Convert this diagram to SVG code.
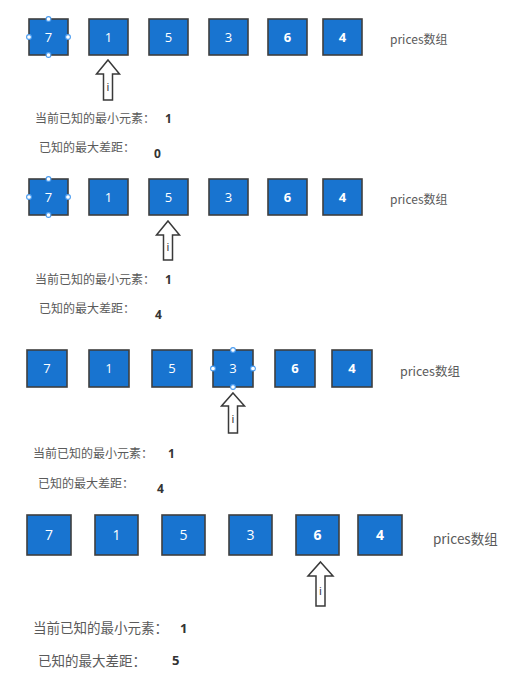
<svg xmlns="http://www.w3.org/2000/svg" width="516" height="680" viewBox="0 0 516 680">
<style>
.box{fill:#1874d0;stroke:#3f3f3f;stroke-width:1.6}
.num{font-family:"Open Sans","Noto Sans",sans-serif;fill:#ffffff;text-anchor:middle}
.nb{font-weight:bold}
.lbl{font-family:"Noto Sans CJK SC","Noto Sans",sans-serif;fill:#5a5a5a}
.val{font-family:"Open Sans","Noto Sans",sans-serif;font-weight:bold;fill:#333333}
.arr{fill:#ffffff;stroke:#3a3a3a;stroke-width:1.5;stroke-linejoin:miter}
.ai{font-family:"Noto Sans",sans-serif;font-size:11px;fill:#333333;text-anchor:middle}
.h{fill:#ffffff;stroke:#4a9cf0;stroke-width:1.1}
</style>
<rect width="516" height="680" fill="#ffffff"/>

<!-- Section 1 -->
<g id="s1">
  <g id="s1-b0"><rect class="box" x="29" y="19" width="39" height="36"/><text class="num" x="48.5" y="41.5" font-size="13">7</text></g>
  <g id="s1-b1"><rect class="box" x="89" y="19" width="39" height="36"/><text class="num" x="108.5" y="41.5" font-size="13">1</text></g>
  <g id="s1-b2"><rect class="box" x="149" y="19" width="39" height="36"/><text class="num" x="168.5" y="41.5" font-size="13">5</text></g>
  <g id="s1-b3"><rect class="box" x="209" y="19" width="39" height="36"/><text class="num" x="228.5" y="41.5" font-size="13">3</text></g>
  <g id="s1-b4"><rect class="box" x="268" y="19" width="39" height="36"/><text class="num nb" x="287.5" y="41.5" font-size="13">6</text></g>
  <g id="s1-b5"><rect class="box" x="323" y="19" width="39" height="36"/><text class="num nb" x="342.5" y="41.5" font-size="13">4</text></g>
  <g id="s1-handles"><circle class="h" cx="48.5" cy="19" r="2.4"/><circle class="h" cx="48.5" cy="55" r="2.4"/><circle class="h" cx="29" cy="37" r="2.4"/><circle class="h" cx="68" cy="37" r="2.4"/></g>
  <g id="s1-title"><text class="lbl" x="390" y="44" font-size="12">prices数组</text></g>
  <g id="s1-ptr"><path class="arr" d="M108,60 L119.5,74 L112.5,74 L112.5,100 L103.5,100 L103.5,74 L96.5,74 Z"/><text class="ai" x="108" y="91">i</text></g>
  <g id="s1-min"><text class="lbl" x="35" y="122.5" font-size="12">当前已知的最小元素：</text><text class="val" x="165" y="122.5" font-size="12">1</text></g>
  <g id="s1-max"><text class="lbl" x="39" y="152" font-size="12">已知的最大差距：</text><text class="val" x="154" y="157.5" font-size="12">0</text></g>
</g>

<!-- Section 2 -->
<g id="s2">
  <g id="s2-b0"><rect class="box" x="29" y="179" width="39" height="36"/><text class="num" x="48.5" y="201.5" font-size="13">7</text></g>
  <g id="s2-b1"><rect class="box" x="89" y="179" width="39" height="36"/><text class="num" x="108.5" y="201.5" font-size="13">1</text></g>
  <g id="s2-b2"><rect class="box" x="149" y="179" width="39" height="36"/><text class="num" x="168.5" y="201.5" font-size="13">5</text></g>
  <g id="s2-b3"><rect class="box" x="209" y="179" width="39" height="36"/><text class="num" x="228.5" y="201.5" font-size="13">3</text></g>
  <g id="s2-b4"><rect class="box" x="268" y="179" width="39" height="36"/><text class="num nb" x="287.5" y="201.5" font-size="13">6</text></g>
  <g id="s2-b5"><rect class="box" x="323" y="179" width="39" height="36"/><text class="num nb" x="342.5" y="201.5" font-size="13">4</text></g>
  <g id="s2-handles"><circle class="h" cx="48.5" cy="179" r="2.4"/><circle class="h" cx="48.5" cy="215" r="2.4"/><circle class="h" cx="29" cy="197" r="2.4"/><circle class="h" cx="68" cy="197" r="2.4"/></g>
  <g id="s2-title"><text class="lbl" x="390" y="204" font-size="12">prices数组</text></g>
  <g id="s2-ptr"><path class="arr" d="M168,221 L179.5,235 L172.5,235 L172.5,260 L163.5,260 L163.5,235 L156.5,235 Z"/><text class="ai" x="168" y="251">i</text></g>
  <g id="s2-min"><text class="lbl" x="35" y="284" font-size="12">当前已知的最小元素：</text><text class="val" x="165" y="284" font-size="12">1</text></g>
  <g id="s2-max"><text class="lbl" x="39" y="313" font-size="12">已知的最大差距：</text><text class="val" x="155" y="318.5" font-size="12">4</text></g>
</g>

<!-- Section 3 -->
<g id="s3">
  <g id="s3-b0"><rect class="box" x="27" y="350" width="40" height="37"/><text class="num" x="47" y="373" font-size="13">7</text></g>
  <g id="s3-b1"><rect class="box" x="89" y="350" width="40" height="37"/><text class="num" x="109" y="373" font-size="13">1</text></g>
  <g id="s3-b2"><rect class="box" x="152" y="350" width="40" height="37"/><text class="num" x="172" y="373" font-size="13">5</text></g>
  <g id="s3-b3"><rect class="box" x="213" y="350" width="40" height="37"/><text class="num" x="233" y="373" font-size="13">3</text></g>
  <g id="s3-b4"><rect class="box" x="275" y="350" width="40" height="37"/><text class="num nb" x="295" y="373" font-size="13">6</text></g>
  <g id="s3-b5"><rect class="box" x="332" y="350" width="40" height="37"/><text class="num nb" x="352" y="373" font-size="13">4</text></g>
  <g id="s3-handles"><circle class="h" cx="233" cy="350" r="2.4"/><circle class="h" cx="233" cy="387" r="2.4"/><circle class="h" cx="213" cy="368.5" r="2.4"/><circle class="h" cx="253" cy="368.5" r="2.4"/></g>
  <g id="s3-title"><text class="lbl" x="400" y="376" font-size="12.5">prices数组</text></g>
  <g id="s3-ptr"><path class="arr" d="M233,393 L244.5,406 L237.5,406 L237.5,433 L228.5,433 L228.5,406 L221.5,406 Z"/><text class="ai" x="233" y="423">i</text></g>
  <g id="s3-min"><text class="lbl" x="33" y="458" font-size="12">当前已知的最小元素：</text><text class="val" x="168" y="458" font-size="12">1</text></g>
  <g id="s3-max"><text class="lbl" x="38" y="488" font-size="12">已知的最大差距：</text><text class="val" x="157" y="492.5" font-size="12">4</text></g>
</g>

<!-- Section 4 -->
<g id="s4">
  <g id="s4-b0"><rect class="box" x="27" y="515" width="44" height="40"/><text class="num" x="49" y="540" font-size="14">7</text></g>
  <g id="s4-b1"><rect class="box" x="95" y="515" width="43" height="40"/><text class="num" x="116.5" y="540" font-size="14">1</text></g>
  <g id="s4-b2"><rect class="box" x="162" y="515" width="43" height="40"/><text class="num" x="183.5" y="540" font-size="14">5</text></g>
  <g id="s4-b3"><rect class="box" x="229" y="515" width="43" height="40"/><text class="num" x="250.5" y="540" font-size="14">3</text></g>
  <g id="s4-b4"><rect class="box" x="296" y="515" width="43" height="40"/><text class="num nb" x="317.5" y="540" font-size="14">6</text></g>
  <g id="s4-b5"><rect class="box" x="358" y="515" width="44" height="40"/><text class="num nb" x="380" y="540" font-size="14">4</text></g>
  <g id="s4-title"><text class="lbl" x="433" y="544" font-size="13.5">prices数组</text></g>
  <g id="s4-ptr"><path class="arr" d="M320.5,562 L333,576 L325,576 L325,606 L316,606 L316,576 L308,576 Z"/><text class="ai" x="320.5" y="595">i</text></g>
  <g id="s4-min"><text class="lbl" x="33" y="633" font-size="13.5">当前已知的最小元素：</text><text class="val" x="180" y="633" font-size="13">1</text></g>
  <g id="s4-max"><text class="lbl" x="38" y="666" font-size="13.5">已知的最大差距：</text><text class="val" x="172" y="665" font-size="13">5</text></g>
</g>

<g id="connectors"></g>
</svg>
